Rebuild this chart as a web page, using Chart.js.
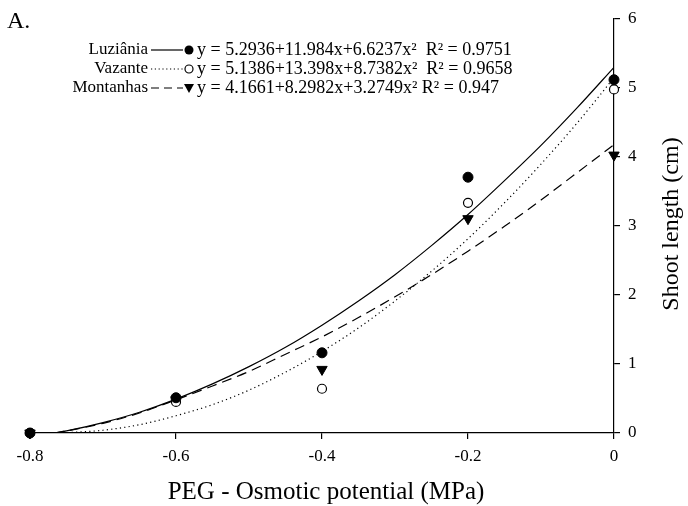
<!DOCTYPE html>
<html>
<head>
<meta charset="utf-8">
<script src="https://cdn.jsdelivr.net/npm/chart.js@4/dist/chart.umd.min.js"></script>
<style>
  html, body { margin: 0; padding: 0; background: #fff; }
  #wrap { width: 688px; height: 506px; }
</style>
</head>
<body>
<div id="wrap"><canvas id="shootChart" width="688" height="506"></canvas></div>
<script>
// DATA
const potentials = [-0.8, -0.6, -0.4, -0.2, 0];
const luziania = [0, 0.51, 1.16, 3.70, 5.11];
const vazante = [0, 0.45, 0.64, 3.33, 4.97];
const montanhas = [0, 0.48, 0.92, 3.10, 4.02];

// fitted curves
const fitX = [-0.767, -0.75, -0.7, -0.65, -0.6, -0.55, -0.5, -0.45, -0.4, -0.35, -0.3, -0.25, -0.2, -0.15, -0.1, -0.05, 0];
const luzFit = [0, 0.03, 0.15, 0.30, 0.49, 0.71, 0.96, 1.24, 1.56, 1.91, 2.29, 2.71, 3.16, 3.65, 4.16, 4.71, 5.29];
const vazFit = [0, 0.005, 0.04, 0.12, 0.25, 0.41, 0.62, 0.88, 1.18, 1.52, 1.91, 2.34, 2.81, 3.33, 3.89, 4.49, 5.14];
const monFit = [0, 0.03, 0.14, 0.29, 0.48, 0.68, 0.89, 1.14, 1.39, 1.67, 1.97, 2.29, 2.63, 2.99, 3.37, 3.77, 4.17];

const xTicks = [-0.8, -0.6, -0.4, -0.2, 0];
const yTicks = [0, 1, 2, 3, 4, 5, 6];

const legendRows = [
    { name: "Luziânia", eq: "y = 5.2936+11.984x+6.6237x²  R² = 0.9751", dash: [], marker: "dot" },
    { name: "Vazante", eq: "y = 5.1386+13.398x+8.7382x²  R² = 0.9658", dash: [1.2, 2.6], marker: "ring" },
    { name: "Montanhas", eq: "y = 4.1661+8.2982x+3.2749x² R² = 0.947", dash: [8, 5], marker: "tri" }
];

const serif = "'Liberation Serif', 'Times New Roman', serif";

function pts(xs, ys) {
    return xs.map((x, i) => ({ x: x, y: ys[i] }));
}

function drawMarker(ctx, kind, x, y) {
    ctx.save();
    ctx.lineWidth = 1.2;
    ctx.strokeStyle = "#000";
    ctx.fillStyle = "#000";
    ctx.beginPath();
    if (kind === "dot") {
        ctx.arc(x, y, 4.5, 0, Math.PI * 2);
        ctx.fill();
    } else if (kind === "ring") {
        ctx.arc(x, y, 4, 0, Math.PI * 2);
        ctx.fillStyle = "#fff";
        ctx.fill();
        ctx.stroke();
    } else {
        ctx.moveTo(x - 5, y - 4);
        ctx.lineTo(x + 5, y - 4);
        ctx.lineTo(x, y + 5);
        ctx.closePath();
        ctx.fill();
    }
    ctx.restore();
}

// legend, titles and panel letter
const decorations = {
    id: "decorations",
    afterDraw(chart) {
        const ctx = chart.ctx;
        ctx.save();
        ctx.fillStyle = "#000";

        ctx.font = "24px " + serif;
        ctx.textAlign = "left";
        ctx.textBaseline = "middle";
        ctx.fillText("A.", 7, 22);

        legendRows.forEach((row, i) => {
            const y = 50 + i * 19;
            ctx.font = "17px " + serif;
            ctx.textAlign = "right";
            ctx.fillText(row.name, 148, y);
            ctx.save();
            ctx.strokeStyle = "#000";
            ctx.lineWidth = 1.2;
            ctx.setLineDash(row.dash);
            ctx.beginPath();
            ctx.moveTo(151, y);
            ctx.lineTo(183, y);
            ctx.stroke();
            ctx.restore();
            drawMarker(ctx, row.marker, 189, y);
            ctx.font = "18px " + serif;
            ctx.textAlign = "left";
            ctx.fillText(row.eq, 197, y);
        });

        ctx.font = "25px " + serif;
        ctx.textAlign = "center";
        ctx.fillText("PEG - Osmotic potential (MPa)", 326, 492);

        ctx.font = "24px " + serif;
        ctx.translate(672, 224);
        ctx.rotate(-Math.PI / 2);
        ctx.fillText("Shoot length (cm)", 0, 0);
        ctx.restore();
    }
};

const ctx = document.getElementById("shootChart");

const chart = new Chart(ctx, {
    type: "scatter",
    data: {
        datasets: [
            {
                label: "Luziânia",
                data: pts(potentials, luziania),
                pointStyle: "circle",
                pointRadius: 5,
                backgroundColor: "#000",
                borderColor: "#000",
                borderWidth: 1,
                clip: false
            },
            {
                label: "Vazante",
                data: pts(potentials, vazante),
                pointStyle: "circle",
                pointRadius: 4.5,
                backgroundColor: "#fff",
                borderColor: "#000",
                borderWidth: 1.2,
                clip: false
            },
            {
                label: "Montanhas",
                data: pts(potentials, montanhas),
                pointStyle: "triangle",
                rotation: 180,
                pointRadius: 6,
                backgroundColor: "#000",
                borderColor: "#000",
                borderWidth: 1,
                clip: false
            },
            {
                type: "line",
                label: "Luziânia fit",
                data: pts(fitX, luzFit),
                borderColor: "#000",
                borderWidth: 1.2,
                pointRadius: 0,
                cubicInterpolationMode: "monotone",
                fill: false
            },
            {
                type: "line",
                label: "Vazante fit",
                data: pts(fitX, vazFit),
                borderColor: "#000",
                borderWidth: 1.2,
                borderDash: [1.2, 3.2],
                pointRadius: 0,
                cubicInterpolationMode: "monotone",
                fill: false
            },
            {
                type: "line",
                label: "Montanhas fit",
                data: pts(fitX, monFit),
                borderColor: "#000",
                borderWidth: 1.2,
                borderDash: [10, 6],
                pointRadius: 0,
                cubicInterpolationMode: "monotone",
                fill: false
            }
        ]
    },
    options: {
        responsive: false,
        animation: false,
        layout: { padding: { left: 30, top: 16, right: 0, bottom: 0 } },
        plugins: {
            legend: { display: false },
            tooltip: { enabled: false }
        },
        scales: {
            x: {
                type: "linear",
                min: -0.8,
                max: 0,
                afterFit: s => { s.height = 73; },
                afterBuildTicks: s => { s.ticks = xTicks.map(v => ({ value: v })); },
                grid: { drawOnChartArea: false, tickLength: 6, color: "#000", lineWidth: 1.2 },
                border: { color: "#000", width: 1.2 },
                ticks: {
                    color: "#000",
                    padding: 7,
                    maxRotation: 0,
                    font: { family: serif, size: 17 },
                    callback: v => (v === 0 ? "0" : String(v))
                }
            },
            y: {
                position: "right",
                min: 0,
                max: 6,
                afterFit: s => { s.width = 74; },
                afterBuildTicks: s => { s.ticks = yTicks.map(v => ({ value: v })); },
                grid: { drawOnChartArea: false, tickLength: 6, color: "#000", lineWidth: 1.2 },
                border: { color: "#000", width: 1.2 },
                ticks: {
                    color: "#000",
                    padding: 8,
                    font: { family: serif, size: 17 }
                }
            }
        }
    },
    plugins: [decorations]
});
</script>
</body>
</html>
